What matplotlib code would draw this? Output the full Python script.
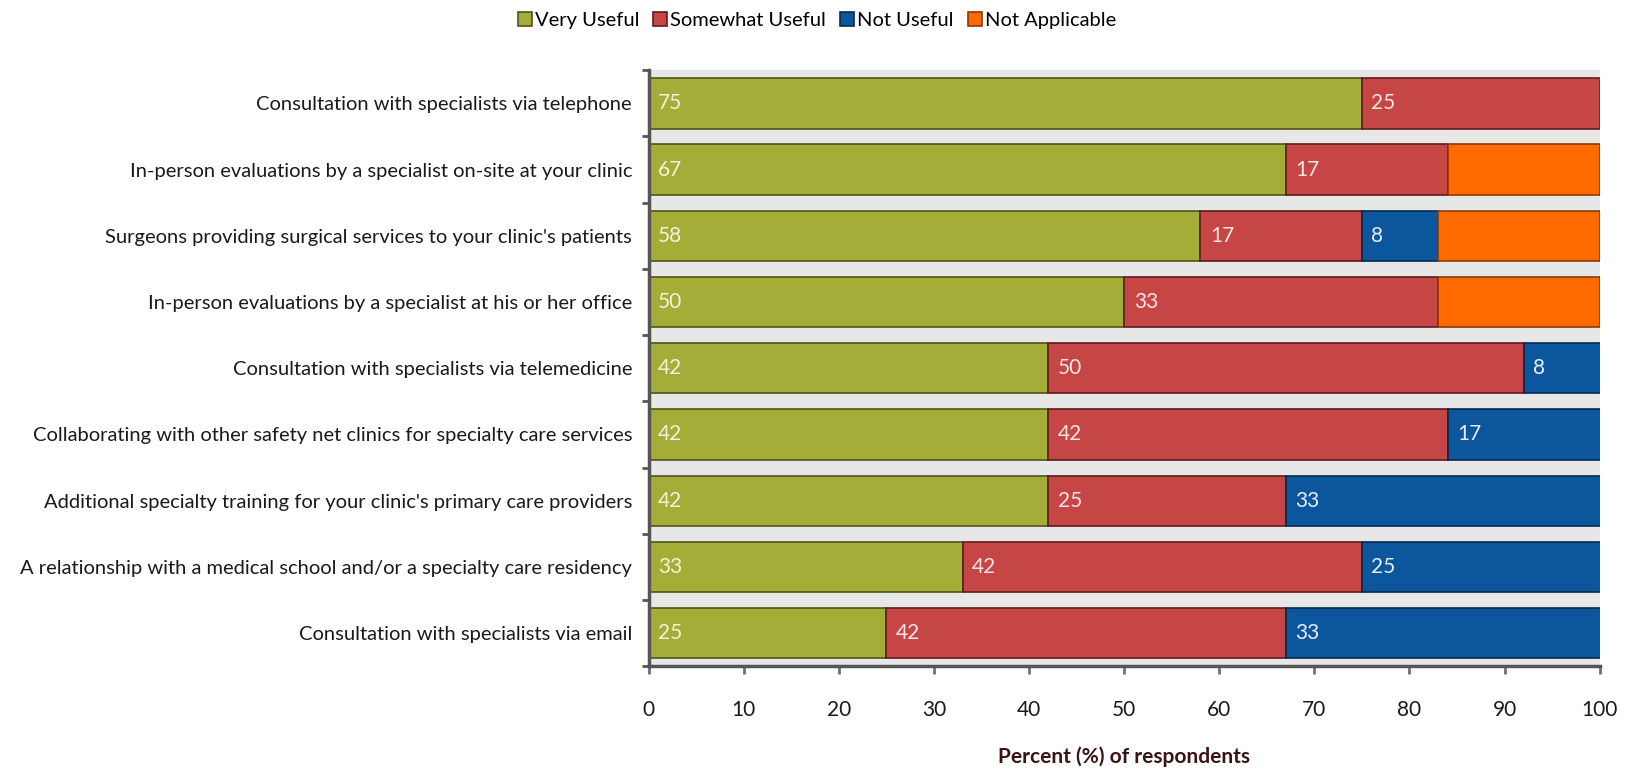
import matplotlib.pyplot as plt
import numpy as np

# ── Survey data ───────────────────────────────────────────────────────────────
categories = [
    "Consultation with specialists via telephone",
    "In-person evaluations by a specialist on-site at your clinic",
    "Surgeons providing surgical services to your clinic's patients",
    "In-person evaluations by a specialist at his or her office",
    "Consultation with specialists via telemedicine",
    "Collaborating with other safety net clinics for specialty care services",
    "Additional specialty training for your clinic's primary care providers",
    "A relationship with a medical school and/or a specialty care residency",
    "Consultation with specialists via email",
]
very_useful = [75, 67, 58, 50, 42, 42, 42, 33, 25]
somewhat_useful = [25, 17, 17, 33, 50, 42, 25, 42, 42]
not_useful = [0, 0, 8, 0, 8, 17, 33, 25, 33]
not_applicable = [0, 16, 17, 17, 0, 0, 0, 0, 0]

series_names = ["Very Useful", "Somewhat Useful", "Not Useful", "Not Applicable"]
fills = ["#a3ad38", "#c64646", "#0b569c", "#ff6a00"]
edges = ["#4f5418", "#5e1c1c", "#062a4c", "#8a3a00"]
label_color = ["#f4f2dc", "#f6e6e6", "#e6eef8", "#ffffff"]

FONT = ["Lato", "DejaVu Sans"]
plt.rcParams["font.family"] = FONT

fig = plt.figure(figsize=(16.34, 7.72), dpi=100)
AX_RECT = [0.397, 0.137, 0.582, 0.772]
ax = fig.add_axes(AX_RECT)
ax.set_facecolor("#e7e7e7")

y = np.arange(len(categories))
left = np.zeros(len(categories))
handles = []
for k, vals in enumerate([very_useful, somewhat_useful, not_useful, not_applicable]):
    vals = np.array(vals, dtype=float)
    bars = ax.barh(y, vals, left=left, height=0.76, color=fills[k],
                   edgecolor=edges[k], linewidth=1.2, label=series_names[k])
    handles.append(bars)
    if k < 3:
        for yi, l, v in zip(y, left, vals):
            if v > 0:
                ax.text(l + 1.0, yi, f"{v:.0f}", va="center", ha="left",
                        fontsize=15, color=label_color[k])
    left += vals

ax.set_ylim(len(categories) - 0.5, -0.5)
ax.set_xlim(0, 100)
ax.set_yticks(y)
ax.set_yticklabels(categories, fontsize=14.5, color="#1a1a1a")
ax.tick_params(axis="y", length=0, pad=12)
ax.set_yticks(np.arange(-0.5, len(categories), 1), minor=True)
ax.tick_params(axis="y", which="minor", length=5, width=2, color="#555555")

ax.set_xticks(np.arange(0, 101, 10))
ax.tick_params(axis="x", length=6, width=2, color="#6a7080", labelsize=15,
               labelcolor="#1a1a1a", pad=18)

for side in ["top", "right"]:
    ax.spines[side].set_visible(False)
for side in ["left", "bottom"]:
    ax.spines[side].set_color("#555555")
    ax.spines[side].set_linewidth(2.5)

# axis title sits near the bottom edge of the figure
fig.text(AX_RECT[0] + AX_RECT[2] / 2, 0.02, "Percent (%) of respondents",
         ha="center", va="center", fontsize=15, fontweight="bold",
         color="#3a1414")

fig.legend(handles=handles, labels=series_names, loc="upper center",
           bbox_to_anchor=(0.5, 1.008), ncol=4, frameon=False, fontsize=14.5,
           handlelength=0.7, handleheight=0.7, handletextpad=0.15,
           columnspacing=0.7)

fig.savefig("out.png", dpi=100)
